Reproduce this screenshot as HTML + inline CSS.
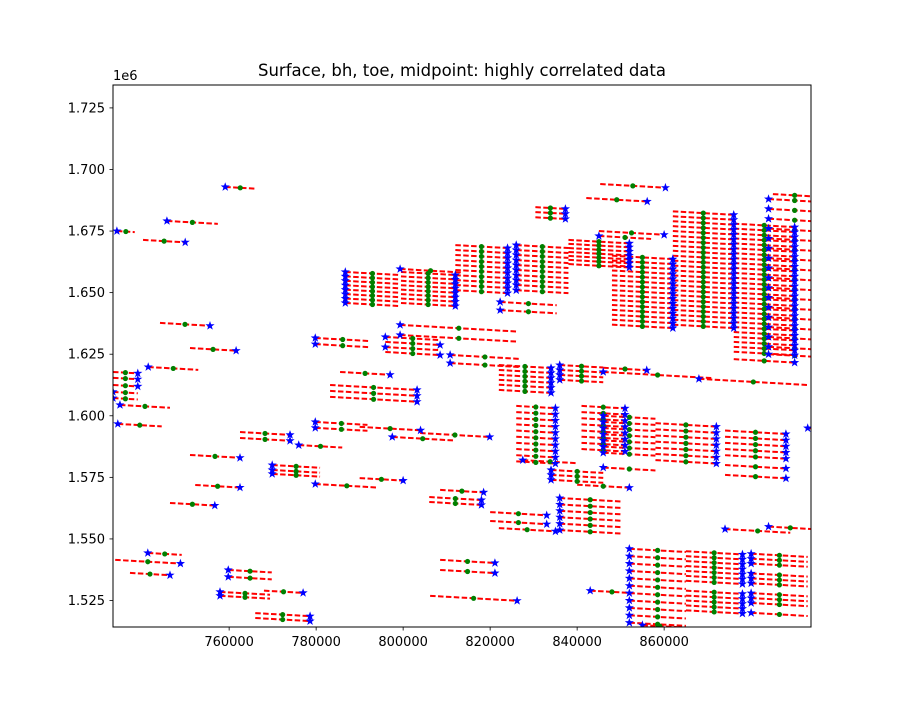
<!DOCTYPE html>
<html><head><meta charset="utf-8"><style>
html,body{margin:0;padding:0;background:#fff;}
svg text{font-family:"DejaVu Sans","Liberation Sans",sans-serif;}
</style></head><body>
<svg id="chart" width="900" height="705" xmlns="http://www.w3.org/2000/svg">
<rect width="900" height="705" fill="#fff"/>
<text x="462" y="76" font-size="16.5" text-anchor="middle">Surface, bh, toe, midpoint: highly correlated data</text>
<text x="113" y="80" font-size="13">1e6</text>
<defs><clipPath id="clip"><rect x="113" y="85" width="698" height="542"/></clipPath></defs>
<g id="marks" clip-path="url(#clip)"></g>
<rect x="113" y="85" width="698" height="542" fill="none" stroke="#000" stroke-width="1"/>
<g id="axes"></g>
</svg>
<script>
// x in km (×1000), y in 1e6 units, length in km, star end (0 = left, 1 = right)
const xTicks = [760, 780, 800, 820, 840, 860];
const xTickLabels = ["760000","780000","800000","820000","840000","860000"];
const yTicks = [1.525,1.550,1.575,1.600,1.625,1.650,1.675,1.700,1.725];
const yTickLabels = ["1.525","1.550","1.575","1.600","1.625","1.650","1.675","1.700","1.725"];
const segDrop = 0.0001;
const segmentsLeft = [
[734.2,1.6750,4.1,0],[740.2,1.6714,9.7,1],[745.7,1.6791,11.7,0],[759.1,1.6929,6.9,0],
[744.1,1.6377,11.5,1],[751.0,1.6275,10.6,1],[741.4,1.6198,11.5,0],
[733.3,1.6178,5.7,1],[733.3,1.6154,5.7,1],[733.3,1.6125,5.7,1],[733.3,1.6097,5.7,0],[733.3,1.6072,5.7,0],
[734.9,1.6044,11.5,0],[734.4,1.5967,10.1,0],[751.0,1.5841,11.5,1],[752.2,1.5719,10.3,1],
[746.4,1.5646,10.3,1],[733.8,1.5415,15,1],[741.3,1.5443,7.8,0],[737.2,1.5362,9.2,1],
[759.8,1.5374,10,0],[759.8,1.5346,10,0],[757.9,1.5285,11.5,0],[757.9,1.5269,11.5,0],
[766.0,1.5199,12.6,1],[766.0,1.5179,12.6,1],[768,1.5290,9,1],
[762.5,1.5934,11.5,1],[762.5,1.5910,11.5,1],
[769.9,1.5800,11,0],[769.9,1.5780,11,0],[769.9,1.5764,11,0],
[779.8,1.5723,14.5,0],[790,1.5747,10,1],
[779.8,1.5975,12,0],[779.8,1.5951,12,0],[776,1.5881,10,0],
[779.8,1.6316,12.6,0],[779.8,1.6291,12.6,0]
];
const segmentsMiddle = [
[786.7,1.6584,12.5,0],[799.5,1.6584,12.5,1],[786.7,1.6566,12.5,0],[799.5,1.6566,12.5,1],
[786.7,1.6548,12.5,0],[799.5,1.6548,12.5,1],[786.7,1.6530,12.5,0],[799.5,1.6530,12.5,1],
[786.7,1.6512,12.5,0],[799.5,1.6512,12.5,1],[786.7,1.6494,12.5,0],[799.5,1.6494,12.5,1],
[786.7,1.6476,12.5,0],[799.5,1.6476,12.5,1],[786.7,1.6458,12.5,0],[799.5,1.6458,12.5,1],
[799.3,1.6596,14,0],
[795.9,1.6320,12.6,0],[795.9,1.6300,12.6,1],[795.9,1.6279,12.6,0],[795.9,1.6259,12.6,1],
[785.5,1.6178,11.5,1],[783.2,1.6125,20,1],[783.2,1.6101,20,1],[783.2,1.6077,20,1],
[790,1.5955,14,1],[797.5,1.5914,14,0],[803.9,1.5930,16,1],
[808.5,1.5699,10,1],[806,1.5650,12,1],[806,1.5670,12,1],
[808.5,1.5415,12.6,1],[808.5,1.5374,12.6,1],[806.2,1.5269,20,1],
[820,1.5609,13,1],[820,1.5573,13,1],[822,1.5544,13,1],
[810.8,1.6247,16,0],[810.8,1.6214,16,0],[799.3,1.6369,27,0],[799.3,1.6328,27,0],
[822.3,1.6462,13,0],[822.3,1.6429,13,0],
[812,1.6693,12,1],[826,1.6693,12,0],[812,1.6673,12,1],[826,1.6673,12,0],
[812,1.6653,12,1],[826,1.6653,12,0],[812,1.6632,12,1],[826,1.6632,12,0],
[812,1.6612,12,1],[826,1.6612,12,0],[812,1.6592,12,1],[826,1.6592,12,0],
[812,1.6571,12,1],[826,1.6571,12,0],[812,1.6551,12,1],[826,1.6551,12,0],
[812,1.6531,12,1],[826,1.6531,12,0],[812,1.6510,12,1],[826,1.6510,12,0],
[830.4,1.6847,6.9,1],[830.4,1.6827,6.9,1],[830.4,1.6806,6.9,1],
[838,1.6714,14,1],[838,1.6698,14,1],[838,1.6681,14,1],[838,1.6665,14,1],[838,1.6649,14,1],[838,1.6633,14,1],[838,1.6616,14,1],
[822,1.6206,12,1],[836,1.6206,10,0],[822,1.6186,12,1],[836,1.6186,10,0],[822,1.6166,12,1],[836,1.6166,10,0],
[822,1.6146,12,1],[836,1.6146,10,0],[822,1.6126,12,1],[822,1.6105,12,1],
[826,1.6040,9,1],[841,1.6040,10,1],[826,1.6015,9,1],[841,1.6015,10,1],[826,1.5990,9,1],[841,1.5990,10,1],
[826,1.5965,9,1],[841,1.5965,10,1],[826,1.5940,9,1],[841,1.5940,10,1],[826,1.5915,9,1],[841,1.5915,10,1],
[826,1.5890,9,1],[841,1.5890,10,1],[826,1.5865,9,1],[841,1.5865,10,1],[826,1.5840,9,1],[826,1.5815,9,1],
[834,1.5780,12,0],[834,1.5760,12,0],[834,1.5740,12,0],
[836,1.5666,14,0],[836,1.5640,14,0],[836,1.5614,14,0],[836,1.5588,14,0],[836,1.5562,14,0],[836,1.5536,14,0],
[827.5,1.5820,12.6,0],[845.3,1.6941,15,1],[842.1,1.6884,14,1],[845,1.6750,15,1],[845,1.6730,12,0]
];
const segmentsRight = [
[848,1.6650,14,1],[848,1.6610,14,1],[848,1.6570,14,1],[848,1.6530,14,1],[848,1.6490,14,1],[848,1.6450,14,1],[848,1.6410,14,1],[848,1.6370,14,1],
[848,1.6630,14,1],[848,1.6590,14,1],[848,1.6550,14,1],[848,1.6510,14,1],[848,1.6470,14,1],[848,1.6430,14,1],[848,1.6390,14,1],
[862,1.6830,14,1],[862,1.6790,14,1],[862,1.6750,14,1],[862,1.6710,14,1],[862,1.6670,14,1],[862,1.6630,14,1],
[862,1.6590,14,1],[862,1.6550,14,1],[862,1.6510,14,1],[862,1.6470,14,1],[862,1.6430,14,1],[862,1.6390,14,1],
[862,1.6810,14,1],[862,1.6770,14,1],[862,1.6730,14,1],[862,1.6690,14,1],[862,1.6650,14,1],[862,1.6610,14,1],
[862,1.6570,14,1],[862,1.6530,14,1],[862,1.6490,14,1],[862,1.6450,14,1],[862,1.6410,14,1],[862,1.6370,14,1],
[876,1.6780,14,1],[876,1.6740,14,1],[876,1.6700,14,1],[876,1.6660,14,1],[876,1.6620,14,1],[876,1.6580,14,1],
[876,1.6540,14,1],[876,1.6500,14,1],[876,1.6460,14,1],[876,1.6420,14,1],[876,1.6380,14,1],[876,1.6340,14,1],
[876,1.6300,14,1],[876,1.6260,14,1],[876,1.6230,14,1],
[876,1.6760,14,1],[876,1.6720,14,1],[876,1.6680,14,1],[876,1.6640,14,1],[876,1.6600,14,1],[876,1.6560,14,1],
[876,1.6520,14,1],[876,1.6480,14,1],[876,1.6440,14,1],[876,1.6400,14,1],[876,1.6360,14,1],[876,1.6320,14,1],[876,1.6280,14,1],
[884,1.6880,12,0],[884,1.6800,12,0],[884,1.6720,12,0],[884,1.6640,12,0],[884,1.6560,12,0],[884,1.6480,12,0],[884,1.6400,12,0],[884,1.6320,12,0],[884,1.6250,12,0],
[884,1.6840,12,0],[884,1.6760,12,0],[884,1.6680,12,0],[884,1.6600,12,0],[884,1.6520,12,0],[884,1.6440,12,0],[884,1.6360,12,0],[884,1.6280,12,0],
[846,1.6178,25,0],[868,1.6150,25,0],[846,1.6195,10,1],
[846,1.6000,12,0],[846,1.5950,12,0],[846,1.5900,12,0],[846,1.5850,12,0],[846,1.5790,12,0],
[846,1.5975,12,0],[846,1.5925,12,0],[846,1.5875,12,0],
[858,1.5970,14,1],[858,1.5920,14,1],[858,1.5870,14,1],[858,1.5820,14,1],[858,1.5945,14,1],[858,1.5895,14,1],[858,1.5845,14,1],
[874,1.5940,14,1],[874,1.5890,14,1],[874,1.5840,14,1],[874,1.5800,14,1],[874,1.5760,14,1],[874,1.5915,14,1],[874,1.5865,14,1],
[840,1.5720,12,1],
[852,1.5460,13,0],[852,1.5400,13,0],[852,1.5340,13,0],[852,1.5280,13,0],[852,1.5220,13,0],[852,1.5160,13,0],
[852,1.5430,13,0],[852,1.5370,13,0],[852,1.5310,13,0],[852,1.5250,13,0],[852,1.5190,13,0],
[865,1.5450,13,1],[865,1.5410,13,1],[865,1.5370,13,1],[865,1.5330,13,1],[865,1.5290,13,1],[865,1.5250,13,1],[865,1.5210,13,1],
[865,1.5430,13,1],[865,1.5390,13,1],[865,1.5350,13,1],[865,1.5270,13,1],[865,1.5230,13,1],
[880,1.5440,13,0],[880,1.5400,13,0],[880,1.5360,13,0],[880,1.5320,13,0],[880,1.5280,13,0],[880,1.5240,13,0],[880,1.5200,13,0],
[880,1.5420,13,0],[880,1.5340,13,0],[880,1.5260,13,0],
[874,1.5540,15,0],[884,1.5550,10,0],[843,1.5290,10,0],[885,1.6900,10,1],[893,1.5950,5,0],[855,1.5150,8,0]
];
const segments = segmentsLeft.concat(segmentsMiddle, segmentsRight);

const NS = "http://www.w3.org/2000/svg";
function xScale(k){ return 113 + (k - 733.3) * 4.35; }
function yScale(v){ return 85 + (1.7343 - v) * 2463; }
function mk(tag, attrs){ const e = document.createElementNS(NS, tag); for (const k in attrs) e.setAttribute(k, attrs[k]); return e; }
function starPts(cx, cy, r){
  const p = [];
  for (let i = 0; i < 10; i++){
    const a = -Math.PI/2 + i*Math.PI/5, rr = i%2 ? r*0.4 : r;
    p.push((cx + rr*Math.cos(a)).toFixed(1) + "," + (cy + rr*Math.sin(a)).toFixed(1));
  }
  return p.join(" ");
}
const marks = document.getElementById("marks");
const gLines = mk("g", {}), gDots = mk("g", {}), gStars = mk("g", {});






marks.appendChild(gLines); marks.appendChild(gDots); marks.appendChild(gStars);
segments.forEach(s => {
  const x1 = xScale(s[0]), y1 = yScale(s[1]);
  const x2 = xScale(s[0] + s[2]), y2 = yScale(s[1] - segDrop * s[2]);
  const ln = mk("line", {x1:x1, y1:y1, x2:x2, y2:y2, stroke:"#ff0000", "stroke-width":2, "stroke-dasharray":"5.5,2.4"});
  
  
  gLines.appendChild(ln);
  const d = mk("circle", {cx:(x1+x2)/2, cy:(y1+y2)/2, r:2.6, fill:"#008000"});
  
  
  gDots.appendChild(d);
  const sx = s[3] ? x2 : x1, sy = s[3] ? y2 : y1;
  const st = mk("polygon", {points: starPts(sx, sy, 4.8), fill:"#0000ff"});
  
  
  gStars.appendChild(st);
});
const axes = document.getElementById("axes");
xTicks.forEach((t, i) => {
  const x = xScale(t);
  const tk = mk("line", {x1:x, y1:627, x2:x, y2:630.5, stroke:"#000", "stroke-width":0.8});
  
  
  axes.appendChild(tk);
  const tx = mk("text", {x:x, y:646, "font-size":13, "text-anchor":"middle"});
  tx.textContent = xTickLabels[i];
  
  
  axes.appendChild(tx);
});
yTicks.forEach((t, i) => {
  const y = yScale(t);
  const tk = mk("line", {x1:109.5, y1:y, x2:113, y2:y, stroke:"#000", "stroke-width":0.8});
  
  
  axes.appendChild(tk);
  const tx = mk("text", {x:105, y:y+4.5, "font-size":13, "text-anchor":"end"});
  tx.textContent = yTickLabels[i];
  
  
  axes.appendChild(tx);
});
</script>
</body></html>
